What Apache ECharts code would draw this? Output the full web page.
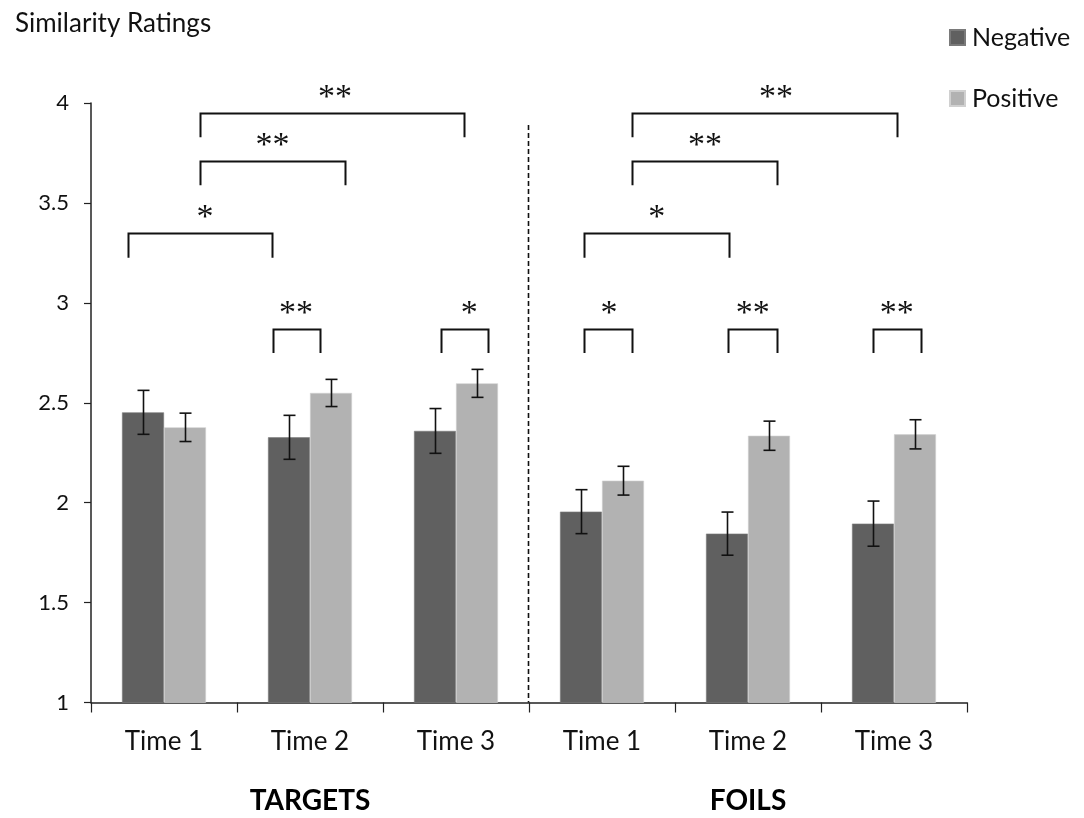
<!DOCTYPE html>
<html>
<head>
<meta charset="utf-8">
<script src="https://cdn.jsdelivr.net/npm/echarts@6/dist/echarts.min.js"></script>
<style>
  html, body { margin: 0; padding: 0; background: #fff; }
  #chart { width: 1084px; height: 818px; }
</style>
</head>
<body>
<div id="chart"></div>
<script>
// Categories and group labels
const timeLabels = ['Time 1', 'Time 2', 'Time 3', 'Time 1', 'Time 2', 'Time 3'];
const groupLabels = ['TARGETS', 'FOILS'];

// Mean similarity ratings and standard errors
const negativeMeans = [2.452, 2.327, 2.359, 1.955, 1.845, 1.895];
const negativeErrors = [0.110, 0.110, 0.112, 0.110, 0.108, 0.113];
const positiveMeans = [2.377, 2.549, 2.597, 2.110, 2.335, 2.342];
const positiveErrors = [0.071, 0.068, 0.070, 0.072, 0.073, 0.073];

// Y ticks
const yMin = 1, yMax = 4, yStep = 0.5;

// Significance brackets (x in category units, y in rating units)
const bracketFrom = [0.247, 0.247, -0.245, 0.745, 1.895, 3.208, 3.208, 2.879, 2.879, 3.865, 4.854];
const bracketTo   = [2.057, 1.240, 0.742, 1.068, 2.221, 5.018, 4.196, 3.870, 3.208, 4.196, 5.185];
const bracketY    = [3.951, 3.711, 3.347, 2.871, 2.871, 3.951, 3.711, 3.347, 2.871, 2.871, 2.871];
const bracketMarkX = [1.171, 0.744, 0.281, 0.904, 2.091, 4.192, 3.705, 3.375, 3.048, 4.032, 5.018];
const bracketMarks = ['**', '**', '*', '**', '*', '**', '**', '*', '*', '**', '**'];
const bracketLeg = 0.122;

// Divider between the two groups
const dividerX = 2.5;
const dividerTop = 3.89;

const NEG_COLOR = '#606060';
const POS_COLOR = '#b2b2b2';
const BAR_CATEGORY_GAP = 0.425;

const chart = echarts.init(document.getElementById('chart'), null, { renderer: 'canvas' });

function bandWidth(api) {
  return api.size([1, 0])[0];
}
function xAt(api, u, v) {
  const base = api.coord([0, v]);
  return [base[0] + u * bandWidth(api), base[1]];
}

function errorSeries(name, means, errs, sign) {
  return {
    type: 'custom',
    name: name + ' error',
    xAxisIndex: 0,
    yAxisIndex: 0,
    silent: true,
    z: 5,
    data: means.map((m, i) => [i, m - errs[i], m + errs[i]]),
    encode: { x: 0, y: [1, 2] },
    renderItem: function (params, api) {
      const i = api.value(0);
      const lo = api.coord([i, api.value(1)]);
      const hi = api.coord([i, api.value(2)]);
      const barW = bandWidth(api) * (1 - BAR_CATEGORY_GAP) / 2;
      const x = Math.round(lo[0] + sign * barW / 2) + 0.5;
      const cap = 6;
      const style = { stroke: '#111', lineWidth: 1.6, fill: null };
      return {
        type: 'group',
        children: [
          { type: 'line', shape: { x1: x, y1: lo[1], x2: x, y2: hi[1] }, style },
          { type: 'line', shape: { x1: x - cap, y1: lo[1], x2: x + cap, y2: lo[1] }, style },
          { type: 'line', shape: { x1: x - cap, y1: hi[1], x2: x + cap, y2: hi[1] }, style }
        ]
      };
    }
  };
}

const option = {
  animation: false,
  backgroundColor: '#ffffff',
  title: {
    text: 'Similarity Ratings',
    left: 10,
    top: 6,
    textStyle: { fontFamily: 'Lato', fontSize: 26, fontWeight: 'normal', color: '#111' }
  },
  legend: {
    orient: 'vertical',
    left: 944,
    top: 20,
    itemWidth: 15,
    itemHeight: 15,
    itemGap: 36,
    icon: 'rect',
    selectedMode: false,
    data: ['Negative', 'Positive'],
    textStyle: { fontFamily: 'Lato', fontSize: 25, color: '#111', padding: [0, 0, 0, 2] }
  },
  grid: { left: 91, right: 117, top: 103, bottom: 115.5, containLabel: false },
  xAxis: [
    {
      type: 'category',
      data: timeLabels,
      position: 'bottom',
      axisLine: { lineStyle: { color: '#222', width: 1.5 } },
      axisTick: { show: true, length: 10, lineStyle: { color: '#222', width: 1.2 } },
      axisLabel: { fontFamily: 'Lato', fontSize: 26, color: '#111', margin: 26 },
      splitLine: { show: false }
    },
    {
      type: 'category',
      data: groupLabels,
      position: 'bottom',
      offset: 84,
      axisLine: { show: false },
      axisTick: { show: false },
      axisLabel: { fontFamily: 'Lato', fontSize: 28, fontWeight: 'bold', color: '#000', margin: 0 },
      splitLine: { show: false }
    }
  ],
  yAxis: {
    type: 'value',
    min: yMin,
    max: yMax,
    interval: yStep,
    axisLine: { show: true, lineStyle: { color: '#222', width: 1.5 } },
    axisTick: { show: true, inside: false, length: 7, lineStyle: { color: '#222', width: 1.2 } },
    axisLabel: { fontFamily: 'Lato', fontSize: 22, color: '#111', margin: 22 },
    splitLine: { show: false }
  },
  series: [
    {
      name: 'Negative',
      type: 'bar',
      data: negativeMeans,
      barGap: '0%',
      barCategoryGap: (BAR_CATEGORY_GAP * 100) + '%',
      itemStyle: { color: NEG_COLOR, borderColor: '#7a7a7a', borderWidth: 0.6 },
      z: 2
    },
    {
      name: 'Positive',
      type: 'bar',
      data: positiveMeans,
      barGap: '0%',
      barCategoryGap: (BAR_CATEGORY_GAP * 100) + '%',
      itemStyle: { color: POS_COLOR, borderColor: '#d0d0d0', borderWidth: 0.6 },
      z: 2
    },
    errorSeries('Negative', negativeMeans, negativeErrors, -1),
    errorSeries('Positive', positiveMeans, positiveErrors, 1),
    {
      type: 'custom',
      name: 'brackets',
      silent: true,
      z: 6,
      data: bracketFrom.map((f, i) => [f, bracketTo[i], bracketY[i], bracketMarkX[i], i]),
      renderItem: function (params, api) {
        const idx = api.value(4);
        const y = api.value(2);
        const a = xAt(api, api.value(0), y);
        const b = xAt(api, api.value(1), y);
        const legY = api.coord([0, y - bracketLeg])[1];
        const mark = xAt(api, api.value(3), y + 0.075);
        const ax = Math.round(a[0]) + 0.5, bx = Math.round(b[0]) + 0.5, ty = Math.round(a[1]) + 0.5;
        return {
          type: 'group',
          children: [
            {
              type: 'polyline',
              shape: { points: [[ax, legY], [ax, ty], [bx, ty], [bx, legY]] },
              style: { stroke: '#111', lineWidth: 2, fill: null }
            },
            {
              type: 'text',
              x: mark[0],
              y: mark[1],
              style: {
                text: bracketMarks[idx],
                font: '34px "Liberation Serif"',
                fill: '#111',
                align: 'center',
                verticalAlign: 'middle'
              }
            }
          ]
        };
      }
    },
    {
      type: 'custom',
      name: 'divider',
      silent: true,
      z: 4,
      data: [[dividerX, dividerTop]],
      renderItem: function (params, api) {
        const top = xAt(api, api.value(0), api.value(1));
        const bottom = api.coord([0, yMin])[1];
        const x = Math.round(top[0]) - 0.5;
        return {
          type: 'line',
          shape: { x1: x, y1: top[1], x2: x, y2: bottom },
          style: { stroke: '#111', lineWidth: 1.6, lineDash: [5, 3] }
        };
      }
    }
  ]
};

chart.setOption(option);
</script>
</body>
</html>
